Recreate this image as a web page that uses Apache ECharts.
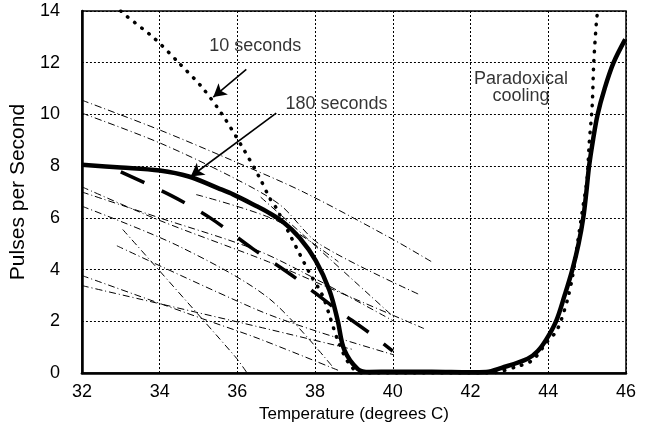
<!DOCTYPE html>
<html>
<head>
<meta charset="utf-8">
<script src="https://cdn.jsdelivr.net/npm/echarts@6/dist/echarts.min.js"></script>
<style>
  html, body { margin: 0; padding: 0; background: #fff; }
  #main { width: 645px; height: 430px; }
</style>
</head>
<body>
<div id="main"></div>
<script>
// axis ticks
var xTicks = [32, 34, 36, 38, 40, 42, 44, 46];
var yTicks = [0, 2, 4, 6, 8, 10, 12, 14];

// 180 seconds (thick solid)
var sec180 = [[32, 8.05], [33, 7.95], [34, 7.83], [34.75, 7.6], [35.5, 7.15], [35.9, 6.9], [36.5, 6.45],
  [36.75, 6.25], [37.17, 5.85], [37.6, 5.23], [38.02, 4.34], [38.37, 3.19], [38.58, 2.04], [38.75, 0.9],
  [39.1, 0.15], [39.4, 0.04], [40, 0.05], [41, 0.05], [42, 0.03], [42.4, 0.04], [42.8, 0.2], [43.47, 0.55],
  [43.73, 0.85], [43.95, 1.3], [44.2, 2], [44.42, 3], [44.62, 4], [44.78, 5], [44.9, 6], [44.98, 7],
  [45.05, 8], [45.15, 9], [45.27, 10], [45.45, 11], [45.68, 12], [45.98, 12.9]];

// 10 seconds (dotted)
var sec10 = [[33.0, 14.0], [33.15, 13.8], [33.85, 12.96], [34.49, 12.0], [35.09, 11.05], [35.6, 10.02],
  [36.15, 8.68], [36.58, 7.53], [36.83, 6.77], [37.0, 6.38], [37.4, 5.2], [37.85, 3.89], [38.19, 3.0],
  [38.37, 2.23], [38.6, 1.2], [38.9, 0.3], [39.2, 0], [42.5, 0], [43.2, 0.25], [43.6, 0.5], [43.94, 1.15],
  [44.2, 1.6], [44.33, 2.04], [44.5, 2.87], [44.62, 3.7], [44.75, 5], [44.88, 6.3], [45.0, 7.53],
  [45.05, 8.81], [45.13, 10.34], [45.17, 12.0], [45.24, 13.6], [45.27, 14]];

// thick dashed line
var meanLine = [[33, 7.78], [34.3, 6.86], [35.3, 6.0], [36.4, 4.8], [37.4, 3.78], [38.5, 2.52], [39.4, 1.55], [40, 0.85]];

// individual fibres (thin dash-dot)
var fibre1 = [[32, 10.55], [34, 9.4], [35.9, 8.2], [37.7, 7.0], [40, 5.17], [41, 4.3]];
var fibre2 = [[32, 10.05], [34, 8.9], [35.9, 7.55], [37.1, 6.5], [38.1, 5.0], [40.66, 3.05]];
var fibre3 = [[32, 7.2], [34, 5.9], [36.8, 4.3], [38.5, 3.2], [40.8, 1.72]];
var fibre4 = [[32, 7.0], [34, 6.0], [36.5, 4.75], [38.1, 3.57], [40.03, 2.0]];
var fibre5 = [[32, 6.45], [34.5, 4.9], [36.8, 2.9], [38.45, 0.24]];
var fibre6 = [[33.05, 5.55], [35.94, 0.64], [36.25, 0]];
var fibre7 = [[32.9, 4.92], [36.53, 2.43], [38.07, 1.6], [40.03, 0.7]];
var fibre8 = [[32, 3.77], [35.1, 2.1], [36.53, 1.34], [38.6, 0.1]];
var fibre9 = [[32, 3.38], [36.53, 1.79], [39.0, 0.9]];
var fibre10 = [[34.94, 6.9], [37.0, 5.9], [38.6, 4.3]];
var fibre11 = [[36.6, 6.8], [37.68, 5.36], [40.07, 2.1]];
var fibres = [fibre1, fibre2, fibre3, fibre4, fibre5, fibre6, fibre7, fibre8, fibre9, fibre10, fibre11];

// annotations: [x, y, text]
var notes = [[36.46, 12.66, '10 seconds'], [38.55, 10.4, '180 seconds'], [43.3, 11.05, 'Paradoxical\ncooling']];
var arrows = [[[36.23, 11.74], [35.38, 10.67]], [[37.0, 10.05], [34.8, 7.6]]];

var font = '"Liberation Sans", Arial, sans-serif';
var myChart = echarts.init(document.getElementById('main'), null, {renderer: 'canvas'});

var series = fibres.map(function (item, i) {
    return {
        name: 'fibre' + (i + 1),
        type: 'line',
        data: item,
        symbol: 'none',
        smooth: 0.3,
        silent: true,
        lineStyle: {color: '#000', width: 1, type: [7, 3, 1, 3]}
    };
});

series.push({
    name: 'mean',
    type: 'line',
    data: meanLine,
    symbol: 'none',
    smooth: 0.3,
    lineStyle: {color: '#000', width: 3.5, type: [26, 19]}
});
series.push({
    name: '10 seconds',
    type: 'line',
    data: sec10,
    symbol: 'none',
    smooth: 0.3,
    lineStyle: {color: '#000', width: 3.5, type: [0.5, 8.5], cap: 'round'}
});
series.push({
    name: '180 seconds',
    type: 'line',
    data: sec180,
    symbol: 'none',
    smooth: 0.35,
    lineStyle: {color: '#000', width: 4.5},
    markLine: {
        silent: true,
        symbol: ['none', 'arrow'],
        symbolSize: [11, 13],
        label: {show: false},
        lineStyle: {color: '#000', width: 1.6, type: 'solid'},
        data: arrows.map(function (a) {
            return [{coord: a[0]}, {coord: a[1]}];
        })
    }
});
series.push({
    name: 'notes',
    type: 'scatter',
    data: notes,
    symbolSize: 0,
    silent: true,
    label: {
        show: true,
        position: 'inside',
        color: '#000',
        textBorderWidth: 0,
        fontSize: 18,
        fontFamily: font,
        lineHeight: 17,
        align: 'center',
        formatter: function (p) { return p.value[2]; }
    }
});

myChart.setOption({
    animation: false,
    backgroundColor: '#fff',
    grid: {left: 78, right: 19, top: 11, bottom: 57, show: true, borderColor: '#000', borderWidth: 1.5, backgroundColor: 'transparent'},
    xAxis: {
        type: 'value',
        min: xTicks[0],
        max: xTicks[xTicks.length - 1],
        interval: 2,
        name: 'Temperature (degrees C)',
        nameLocation: 'middle',
        nameGap: 30,
        nameTextStyle: {fontSize: 17, color: '#000', fontFamily: font},
        axisLine: {onZero: false, lineStyle: {color: '#000', width: 2.5}},
        axisTick: {show: false},
        axisLabel: {fontSize: 18, color: '#000', fontFamily: font, margin: 10},
        splitLine: {show: true, lineStyle: {color: '#000', width: 1, type: [2, 2]}}
    },
    yAxis: {
        type: 'value',
        min: yTicks[0],
        max: yTicks[yTicks.length - 1],
        interval: 2,
        name: 'Pulses per Second',
        nameLocation: 'middle',
        nameGap: 42,
        nameTextStyle: {fontSize: 21, color: '#000', fontFamily: font},
        axisLine: {show: true, lineStyle: {color: '#000', width: 2.5}},
        axisTick: {show: false},
        axisLabel: {fontSize: 18, color: '#000', fontFamily: font, margin: 22},
        splitLine: {show: true, lineStyle: {color: '#000', width: 1, type: [2, 2]}}
    },
    series: series
});
window.onresize = myChart.resize;
</script>
</body>
</html>
